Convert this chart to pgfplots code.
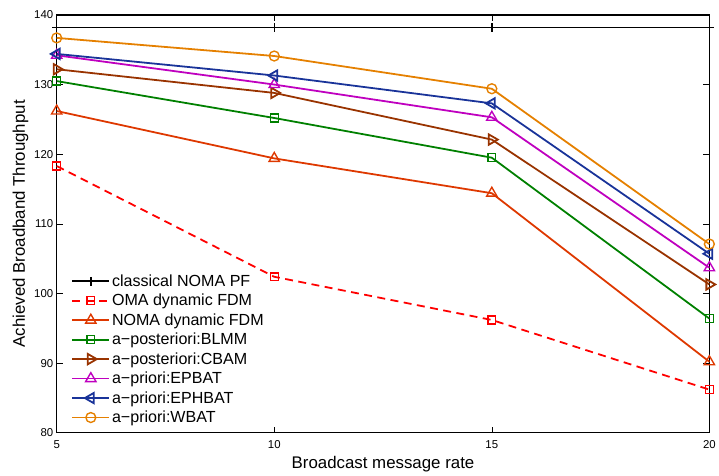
\documentclass[border=0pt]{standalone}
\usepackage{fontspec}
\setmainfont{Liberation Sans}
\usepackage{pgfplots}
\pgfplotsset{compat=1.18}
\definecolor{cOMA}{rgb}{1,0,0}
\definecolor{cNOMA}{rgb}{0.87,0.22,0.0}
\definecolor{cBLMM}{rgb}{0,0.5,0}
\definecolor{cCBAM}{rgb}{0.6,0.2,0}
\definecolor{cEPBAT}{rgb}{0.75,0,0.75}
\definecolor{cEPHBAT}{rgb}{0.1,0.2,0.6}
\definecolor{cWBAT}{rgb}{0.9,0.5,0.0}
\begin{document}
\begin{tikzpicture}
\begin{axis}[
  scale only axis,
  width=656bp, height=420bp,
  xmin=5, xmax=20, ymin=80, ymax=140,
  xtick={5,10,15,20}, ytick={80,90,100,110,120,130,140},
  tick align=inside,
  major tick length=6bp,
  axis line style={line width=1.3pt},
  every tick/.style={black, line width=0.6pt},
  /pgf/number format/assume math mode=true,
  tick label style={font=\fontsize{11.5}{13}\selectfont},
  xticklabel style={yshift=-4bp},
  label style={font=\fontsize{17}{19}\selectfont},
  xlabel={Broadcast message rate},
  ylabel={Achieved Broadband Throughput},
  xlabel style={yshift=-1bp},
  ylabel style={yshift=-1bp},
  clip=false,
  legend cell align=left,
  legend style={draw=none, fill=none, at={(0.021,0.386)}, anchor=north west,
    font=\fontsize{16.2}{17}\selectfont, row sep=2.4bp, inner sep=1bp},
  legend image code/.code={\draw[mark repeat=2,mark phase=2] plot coordinates {(0cm,0cm) (0.65cm,0cm) (1.3cm,0cm)};},
  every axis plot/.append style={line width=1.8pt, mark options={solid, line width=1.4pt}},
]
\addplot[black, mark=+, mark size=4.5pt] coordinates {(5,138.2) (10,138.2) (15,138.2) (20,138.2)};
\addlegendentry{classical NOMA PF}
\addplot[cOMA, dash pattern=on 8bp off 5.5bp, mark=square, mark size=4pt] coordinates {(5,118.3) (10,102.4) (15,96.2) (20,86.2)};
\addlegendentry{OMA dynamic FDM}
\addplot[cNOMA, mark=triangle, mark size=6pt] coordinates {(5,126.2) (10,119.4) (15,114.4) (20,90.2)};
\addlegendentry{NOMA dynamic FDM}
\addplot[cBLMM, mark=square, mark size=4pt] coordinates {(5,130.5) (10,125.2) (15,119.5) (20,96.4)};
\addlegendentry{a{\textminus}posteriori:BLMM}
\addplot[cCBAM, mark=triangle, mark size=6pt, mark options={rotate=-90}] coordinates {(5,132.2) (10,128.8) (15,122.1) (20,101.3)};
\addlegendentry{a{\textminus}posteriori:CBAM}
\addplot[cEPBAT, mark=triangle, mark size=6pt] coordinates {(5,134.2) (10,130.0) (15,125.3) (20,103.7)};
\addlegendentry{a{\textminus}priori:EPBAT}
\addplot[cEPHBAT, mark=triangle, mark size=6pt, mark options={rotate=90}] coordinates {(5,134.4) (10,131.3) (15,127.3) (20,105.7)};
\addlegendentry{a{\textminus}priori:EPHBAT}
\addplot[cWBAT, mark=o, mark size=5pt] coordinates {(5,136.7) (10,134.1) (15,129.4) (20,107.1)};
\addlegendentry{a{\textminus}priori:WBAT}
\end{axis}
\path ([shift={(-57bp,-42bp)}]current axis.south west) rectangle ([shift={(6bp,15bp)}]current axis.north east);
\end{tikzpicture}
\end{document}
